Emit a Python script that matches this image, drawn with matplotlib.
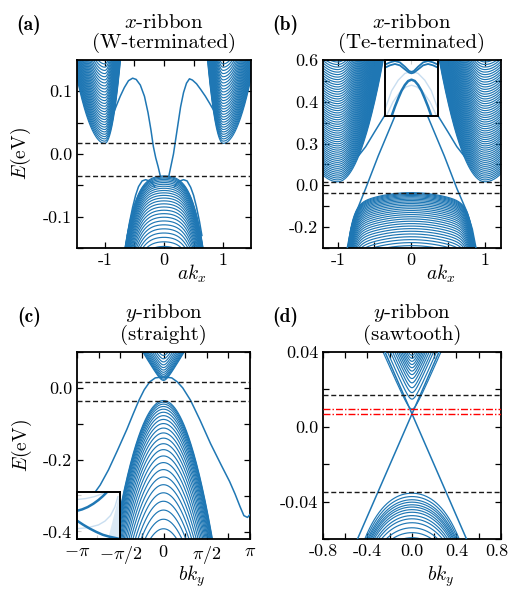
import os
import numpy as np
import matplotlib
matplotlib.use("Agg")
import matplotlib.pyplot as plt
from matplotlib.ticker import FixedLocator, MultipleLocator
from matplotlib.font_manager import FontProperties
from matplotlib.transforms import ScaledTranslation

plt.rcParams.update({
    "font.family": "serif",
    "font.serif": ["cmr10", "DejaVu Serif"],
    "mathtext.fontset": "cm",
    "axes.unicode_minus": False,
    "axes.formatter.use_mathtext": True,
    "axes.linewidth": 1.3,
})

BLUE = "#1f77b4"
FAINT = "#c9def0"
GAP_LINES = [0.017, -0.035]          # dashed black reference energies

# ---------------- panel (a): x-ribbon, W-terminated ----------------
a_xlim = (-1.47, 1.47)
a_ylim = (-0.15, 0.15)
a_cb_min = 0.017
a_cb_valley_k = [-1.0, 1.0]
a_cb_curv = [1.9, 0.47]                 # inner side, outer side
a_cb_ladder = [0.0035, 0.00003, 32]     # step, growth, count of subbands
a_vb_max = -0.035
a_vb_coef = [0.075, 0.434]              # k^2, k^4
a_vb_ladder = [0.0015, 0.00012, 32]
a_edgeL_k = [-0.06, -0.10, -0.14, -0.18, -0.22, -0.27, -0.33, -0.40, -0.47, -0.53,
             -0.60, -0.67, -0.74, -0.80, -0.85]
a_edgeL_E = [-0.036, -0.020, -0.006, 0.012, 0.038, 0.066, 0.092, 0.110, 0.119, 0.121,
             0.117, 0.106, 0.092, 0.078, 0.066]
a_edgeR_k = [0.08, 0.12, 0.16, 0.20, 0.24, 0.28, 0.33, 0.38, 0.43, 0.48, 0.55,
             0.62, 0.70, 0.77, 0.85]
a_edgeR_E = [-0.036, -0.018, 0.0, 0.025, 0.050, 0.075, 0.098, 0.113, 0.120, 0.118, 0.112,
             0.103, 0.092, 0.081, 0.068]
a_bumpL_k = [-0.16, -0.20, -0.25, -0.31, -0.37, -0.43, -0.48, -0.53, -0.58, -0.62]
a_bumpL_E = [-0.052, -0.046, -0.043, -0.041, -0.043, -0.052, -0.066, -0.085, -0.108, -0.130]
a_bumpR_k = [0.18, 0.22, 0.27, 0.33, 0.39, 0.45, 0.50, 0.55, 0.60, 0.64]
a_bumpR_E = [-0.052, -0.046, -0.043, -0.041, -0.043, -0.053, -0.066, -0.085, -0.108, -0.130]

# ---------------- panel (b): x-ribbon, Te-terminated ----------------
b_xlim = (-1.2, 1.22)
b_ylim = (-0.30, 0.60)
b_yticks = [0.6, 0.4, 0.2, 0.0, -0.2]
b_yticklabels = ["0.6", "0.4", "0.3", "0.0", "-0.2"]
b_cb_min = 0.017
b_cb_valley_k = [-1.0, 1.0]
b_cb_curv = [1.52, 0.8]
b_cb_ladder = [0.009, 0.00003, 57]
b_vb_max = -0.035
b_vb_coef = [0.09, 1.18]                # k^2, k^12
b_vb_ladder = [0.004, 0.0002, 31]
b_lamL_k = [-0.05, -0.20, -0.45, -0.62, -0.75, -0.82, -0.87]
b_lamL_E = [0.47, 0.35, 0.14, -0.015, -0.13, -0.21, -0.30]
b_lamR_k = [0.05, 0.20, 0.45, 0.62, 0.76, 0.83, 0.88]
b_lamR_E = [0.47, 0.35, 0.14, -0.015, -0.13, -0.21, -0.30]
b_mL_k = [-0.25, -0.36, -0.50, -0.62, -0.72]
b_mL_E = [0.40, 0.335, 0.255, 0.185, 0.140]
b_mR_k = [0.25, 0.36, 0.50, 0.62, 0.72]
b_mR_E = [0.40, 0.335, 0.255, 0.185, 0.140]
# inset of (b), in its own normalised coordinates
ib_M_u = [-1, -0.81, -0.625, -0.44, -0.25, -0.09, 0, 0.09, 0.25, 0.44, 0.625, 0.81, 1]
ib_Mup_v = [0.917, 0.958, 0.982, 0.958, 0.881, 0.804, 0.786, 0.804, 0.881, 0.958, 0.982, 0.958, 0.917]
ib_Mlo_v = [0.863, 0.905, 0.929, 0.905, 0.833, 0.774, 0.762, 0.774, 0.833, 0.905, 0.929, 0.905, 0.863]
ib_L_u = [-0.75, -0.625, -0.5, -0.375, -0.25, -0.125, 0, 0.125, 0.25, 0.375, 0.5, 0.625, 0.75]
ib_L_v = [0, 0.167, 0.315, 0.452, 0.554, 0.625, 0.649, 0.625, 0.554, 0.452, 0.315, 0.167, 0]
ib_f1_u = [-1, -0.75, -0.5, -0.25, 0, 0.25, 0.5, 0.75, 1]
ib_f1_v = [0.12, 0.45, 0.64, 0.76, 0.80, 0.76, 0.64, 0.45, 0.12]
ib_f2_u = [-0.95, -0.7, -0.45, -0.2, 0, 0.2, 0.45, 0.7, 0.95]
ib_f2_v = [0.0, 0.25, 0.42, 0.52, 0.55, 0.52, 0.42, 0.25, 0.0]

# ---------------- panel (c): y-ribbon, straight ----------------
c_xlim = (-np.pi, np.pi)
c_ylim = (-0.42, 0.10)
c_cb_min = 0.021
c_cb_hyp = [0.02, 0.129]                # gap parameter, velocity
c_cb_ladder = [0.003, 0.0003, 14]
c_vb_max = -0.035
c_vb_curv = 0.122
c_vb_ladder = [0.004, 0.0005, 25]
c_edge_k = [-3.1416, -2.9, -2.6, -2.3, -2.0, -1.68, -1.33, -1.1, -0.89, -0.7, -0.5, -0.3,
            0.0, 0.3, 0.5, 0.7, 0.98, 1.33, 1.71, 2.1, 2.4, 2.6, 2.78, 2.92, 3.05, 3.1416]
c_edge_E = [-0.337, -0.325, -0.302, -0.27, -0.228, -0.175, -0.115, -0.072, -0.034, -0.005,
            0.017, 0.028, 0.031, 0.028, 0.017, 0.0, -0.034, -0.09, -0.155, -0.215, -0.26,
            -0.295, -0.33, -0.355, -0.36, -0.352]
# inset of (c), normalised coordinates
ic_A_u = [0, 0.12, 0.25, 0.38, 0.5, 0.6, 0.7]
ic_A_v = [0.6, 0.63, 0.68, 0.75, 0.83, 0.91, 1.0]
ic_B_u = [0, 0.15, 0.3, 0.45, 0.6, 0.75, 0.9, 1.0]
ic_B_v = [0.39, 0.3, 0.22, 0.15, 0.09, 0.05, 0.02, 0.0]
ic_f1_u = [0, 0.2, 0.4, 0.55, 0.65]
ic_f1_v = [0.84, 0.86, 0.9, 0.95, 1.0]
ic_f2_u = [0, 0.25, 0.5, 0.65, 0.78, 0.88, 0.95]
ic_f2_v = [0.22, 0.24, 0.3, 0.38, 0.5, 0.68, 0.9]
ic_fill_u = [0.73, 1.0, 1.0]
ic_fill_v = [0.0, 0.0, 1.0]

# ---------------- panel (d): y-ribbon, sawtooth ----------------
d_xlim = (-0.8, 0.8)
d_ylim = (-0.06, 0.04)
d_cb_min = 0.0095
d_cb_hyp = [0.005, 0.135]
d_cb_offsets = [0.0, 0.0053, 0.0088, 0.0114, 0.014, 0.0163, 0.0184, 0.0203, 0.0221,
                0.0238, 0.0255, 0.0271, 0.0287, 0.0302]
d_vb_max = -0.0355
d_vb_coef = [0.1, 0.2]
d_vb_offsets = [0, 0.0018, 0.0035, 0.0048, 0.0062, 0.0074, 0.0088, 0.0102, 0.012,
                0.0137, 0.0158, 0.0185, 0.0211, 0.0238]
d_edge1_k = [-0.49, 0.0, 0.25]
d_edge1_E = [-0.060, 0.0069, 0.041]
d_edge2_k = [0.49, 0.0, -0.25]
d_edge2_E = [-0.060, 0.0069, 0.041]
d_red_lines = [0.0095, 0.0068]


def ladder(step, grow, n):
    i = np.arange(n)
    return step * i + grow * i ** 2


def valley(k, k0, c_in, c_out):
    dk = k - k0
    inward = dk * (-np.sign(k0)) > 0
    return np.where(inward, c_in, c_out) * dk ** 2


def hyper(k, m, v):
    return np.sqrt(m ** 2 + (v * k) ** 2) - m


BULK = dict(color=BLUE, lw=0.85, zorder=2)
EDGE = dict(color=BLUE, lw=1.1, zorder=3)


def dashed(ax, ys):
    for y in ys:
        ax.axhline(y, color="#1a1a1a", lw=1.0, ls=(0, (3.6, 2.0)), zorder=4)


def style(ax, xlim, ylim, xt, xtl, xminor, yt, ytl, yminor):
    ax.set_xlim(*xlim)
    ax.set_ylim(*ylim)
    ax.xaxis.set_major_locator(FixedLocator(xt))
    ax.set_xticklabels(xtl)
    ax.xaxis.set_minor_locator(MultipleLocator(xminor))
    ax.yaxis.set_major_locator(FixedLocator(yt))
    ax.set_yticklabels(ytl)
    ax.yaxis.set_minor_locator(MultipleLocator(yminor))
    ax.tick_params(which="both", direction="in", top=True, right=True,
                   length=4.5, width=0.9, labelsize=13)


fig = plt.figure(figsize=(5.1, 6.0), dpi=100)
W, H = 510.0, 600.0


def axes_px(l, t, r, b):
    return fig.add_axes([l / W, 1 - b / H, (r - l) / W, (b - t) / H])


axA = axes_px(77, 60, 251, 248)
axB = axes_px(323, 60, 501, 248)
axC = axes_px(77, 352, 250, 539)
axD = axes_px(323, 352, 501, 539)

# ---- (a)
k = np.linspace(a_xlim[0], a_xlim[1], 500)
for k0 in a_cb_valley_k:
    base = a_cb_min + valley(k, k0, a_cb_curv[0], a_cb_curv[1])
    for d in ladder(*a_cb_ladder):
        axA.plot(k, base + d, **BULK)
vb = a_vb_max - a_vb_coef[0] * k ** 2 - a_vb_coef[1] * k ** 4
for d in ladder(*a_vb_ladder):
    axA.plot(k, vb - d, **BULK)
for kk, ee in [(a_edgeL_k, a_edgeL_E), (a_edgeR_k, a_edgeR_E),
               (a_bumpL_k, a_bumpL_E), (a_bumpR_k, a_bumpR_E)]:
    axA.plot(kk, ee, **EDGE)
dashed(axA, GAP_LINES)
style(axA, a_xlim, a_ylim, [-1, 0, 1], ["-1", "0", "1"], 0.5,
      [0.1, 0.0, -0.1], ["0.1", "0.0", "-0.1"], 0.05)

# ---- (b)
k = np.linspace(b_xlim[0], b_xlim[1], 500)
for k0 in b_cb_valley_k:
    base = b_cb_min + valley(k, k0, b_cb_curv[0], b_cb_curv[1])
    for d in ladder(*b_cb_ladder):
        axB.plot(k, base + d, **BULK)
vb = b_vb_max - b_vb_coef[0] * k ** 2 - b_vb_coef[1] * k ** 12
for d in ladder(*b_vb_ladder):
    axB.plot(k, vb - d, **BULK)
for kk, ee in [(b_lamL_k, b_lamL_E), (b_lamR_k, b_lamR_E), (b_mL_k, b_mL_E), (b_mR_k, b_mR_E)]:
    axB.plot(kk, ee, **EDGE)
dashed(axB, GAP_LINES)
style(axB, b_xlim, b_ylim, [-1, 0, 1], ["-1", "0", "1"], 0.5,
      b_yticks, b_yticklabels, 0.1)

# ---- (c)
k = np.linspace(c_xlim[0], c_xlim[1], 600)
cb = c_cb_min + hyper(k, *c_cb_hyp)
for d in ladder(*c_cb_ladder):
    axC.plot(k, cb + d, **BULK)
vb = c_vb_max - c_vb_curv * k ** 2
for d in ladder(*c_vb_ladder):
    axC.plot(k, vb - d, **BULK)
axC.plot(c_edge_k, c_edge_E, **EDGE)
dashed(axC, GAP_LINES)
style(axC, c_xlim, c_ylim, [-np.pi, -np.pi / 2, 0, np.pi / 2, np.pi],
      [r"$-\pi$", r"$-\pi/2$", r"$0$", r"$\pi/2$", r"$\pi$"], np.pi / 4,
      [0.0, -0.2, -0.4], ["0.0", "-0.2", "-0.4"], 0.1)

# ---- (d)
k = np.linspace(d_xlim[0], d_xlim[1], 500)
cb = d_cb_min + hyper(k, *d_cb_hyp)
for d in d_cb_offsets:
    axD.plot(k, cb + d, **BULK)
vb = d_vb_max - d_vb_coef[0] * k ** 2 - d_vb_coef[1] * k ** 4
for d in d_vb_offsets:
    axD.plot(k, vb - d, **BULK)
axD.plot(d_edge1_k, d_edge1_E, **EDGE)
axD.plot(d_edge2_k, d_edge2_E, **EDGE)
dashed(axD, GAP_LINES)
for y in d_red_lines:
    axD.axhline(y, color="red", lw=1.0, ls=(0, (5, 1.5, 1, 1.5)), zorder=4)
style(axD, d_xlim, d_ylim, [-0.8, -0.4, 0.0, 0.4, 0.8],
      ["-0.8", "-0.4", "0.0", "0.4", "0.8"], 0.2,
      [0.04, 0.0, -0.04], ["0.04", "0.0", "-0.04"], 0.02)
# keep the last x label of (d) inside the canvas
lastlab = axD.get_xticklabels()[-1]
lastlab.set_transform(lastlab.get_transform() + ScaledTranslation(-4 / 100, 0, fig.dpi_scale_trans))

# ---- titles, labels
titles = [(axA, r"$x$-ribbon", "(W-terminated)"), (axB, r"$x$-ribbon", "(Te-terminated)"),
          (axC, r"$y$-ribbon", "(straight)"), (axD, r"$y$-ribbon", "(sawtooth)")]
for ax, t1, t2 in titles:
    ax.set_title(t1 + "\n" + t2, fontsize=15, pad=8.5, linespacing=1.1)

for ax, lab, y in [(axA, r"$ak_x$", -0.135), (axB, r"$ak_x$", -0.135),
                   (axC, r"$bk_y$", -0.20), (axD, r"$bk_y$", -0.20)]:
    ax.text(0.66, y, lab, transform=ax.transAxes, ha="center", va="center", fontsize=14)

for ax in (axA, axC):
    ax.set_ylabel(r"$E$(eV)", fontsize=14)
    ax.yaxis.set_label_coords(-0.25, 0.5)

bold_path = os.path.join(matplotlib.get_data_path(), "fonts", "ttf", "cmb10.ttf")
bold_fp = FontProperties(fname=bold_path, size=14) if os.path.exists(bold_path) else \
    FontProperties(family="DejaVu Serif", weight="bold", size=13)
for lab, x, y in [("(a)", 16, 25), ("(b)", 272, 25), ("(c)", 17, 317), ("(d)", 272, 317)]:
    fig.text(x / W, 1 - y / H, lab, fontproperties=bold_fp, ha="left", va="center")

# ---- insets
insB = axes_px(385, 60, 438, 116)
insB.set_facecolor("white")
insB.plot(ib_f1_u, ib_f1_v, color=FAINT, lw=1.0)
insB.plot(ib_f2_u, ib_f2_v, color=FAINT, lw=1.0)
insB.plot(ib_M_u, ib_Mup_v, color=BLUE, lw=1.3)
insB.plot(ib_M_u, ib_Mlo_v, color=BLUE, lw=1.3)
insB.plot(ib_L_u, ib_L_v, color=BLUE, lw=1.8)
insB.set_xlim(-1, 1)
insB.set_ylim(0, 1)
insB.set_xticks([0])
insB.set_yticks([])
insB.tick_params(direction="in", top=True, bottom=False, labelbottom=False,
                 length=3, color="#cccccc")

insC = axes_px(77, 492, 120, 539)
insC.set_facecolor("white")
insC.fill(ic_fill_u, ic_fill_v, color="#dbe9f5", lw=0)
insC.plot(ic_f1_u, ic_f1_v, color=FAINT, lw=1.0)
insC.plot(ic_f2_u, ic_f2_v, color=FAINT, lw=1.0)
insC.plot(ic_A_u, ic_A_v, color=BLUE, lw=1.8)
insC.plot(ic_B_u, ic_B_v, color=BLUE, lw=1.8)
insC.set_xlim(0, 1)
insC.set_ylim(0, 1)
insC.set_xticks([0.46])
insC.set_yticks([0.18, 0.93])
insC.tick_params(direction="in", labelbottom=False, labelleft=False,
                 length=3, color="#cccccc")

for ins in (insB, insC):
    for s in ins.spines.values():
        s.set_linewidth(1.4)

fig.savefig("out.png", dpi=100)
